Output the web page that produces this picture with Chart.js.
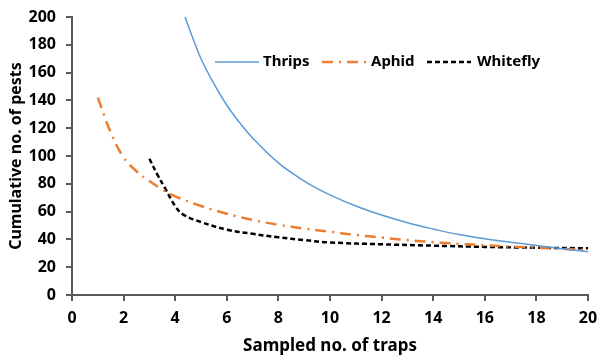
<!DOCTYPE html>
<html>
<head>
<meta charset="utf-8">
<script src="https://cdn.jsdelivr.net/npm/chart.js@4.4.0/dist/chart.umd.min.js"></script>
<style>
html,body{margin:0;padding:0;background:#fff;}
#wrap{width:598px;height:356px;position:relative;}
</style>
</head>
<body>
<div id="wrap"><canvas id="c" width="598" height="356"></canvas></div>
<script>
const seriesNames = ["Thrips", "Aphid", "Whitefly"];

const thripsX = [4.38, 4.7, 5, 5.5, 6, 6.5, 7, 8, 9, 10, 11, 12, 13, 14, 15, 16, 17, 18, 19, 20];
const thripsY = [200, 184, 170, 152, 136.5, 124, 113, 95, 82, 72, 64, 57.5, 52, 47.5, 43.5, 40.5, 38, 35.6, 33.3, 31.1];

const aphidX = [1, 1.5, 2, 2.5, 3, 3.5, 4, 5, 6, 7, 8, 9, 10, 11, 12, 13, 14, 15, 16, 17, 18, 19, 20];
const aphidY = [142, 117, 99, 89, 82, 76, 71, 64, 58.5, 54, 50.5, 47.8, 45.5, 43.2, 41.3, 39.5, 38, 36.8, 35.8, 34.9, 34, 33.2, 32.3];

const whiteflyX = [3, 3.3, 3.6, 4, 4.3, 5, 6, 7, 8, 9, 10, 12, 14, 16, 18, 20];
const whiteflyY = [98, 87, 77, 64, 58, 52.5, 47, 44, 41.5, 39.5, 37.8, 36.5, 35.5, 34.6, 34, 33.6];

const xTicks = [0, 2, 4, 6, 8, 10, 12, 14, 16, 18, 20];
const yTicks = [0, 20, 40, 60, 80, 100, 120, 140, 160, 180, 200];

const xTitle = "Sampled no. of traps";
const yTitle = "Cumulative no. of pests";

function pts(xs, ys) { return xs.map((x, i) => ({x: x, y: ys[i]})); }

const axisColor = '#595959';
const FONT = "'Noto Sans', 'DejaVu Sans', sans-serif";

const legendPlugin = {
  id: 'inlineLegend',
  afterDraw(chart) {
    const ctx = chart.ctx;
    const y = 62;
    const items = [
      {lx: 215, tx: 263},
      {lx: 322, tx: 371},
      {lx: 427, tx: 477}
    ];
    ctx.save();
    chart.data.datasets.forEach((ds, i) => {
      const it = items[i];
      ctx.beginPath();
      ctx.strokeStyle = ds.borderColor;
      ctx.lineWidth = ds.borderWidth;
      ctx.setLineDash(ds.borderDash || []);
      ctx.moveTo(it.lx, y);
      ctx.lineTo(it.lx + 44, y);
      ctx.stroke();
      ctx.setLineDash([]);
      ctx.fillStyle = '#000';
      ctx.font = "bold 15px " + FONT;
      ctx.textBaseline = 'middle';
      ctx.textAlign = 'left';
      ctx.fillText(ds.label, it.tx, y);
    });
    ctx.restore();
  }
};

new Chart(document.getElementById('c'), {
  type: 'line',
  data: {
    datasets: [
      {label: seriesNames[0], data: pts(thripsX, thripsY), borderColor: '#5B9BD5', borderWidth: 1.5, borderDash: [], pointRadius: 0, tension: 0.4, fill: false},
      {label: seriesNames[1], data: pts(aphidX, aphidY), borderColor: '#ED7D31', borderWidth: 2.5, borderDash: [11, 6, 2, 6], pointRadius: 0, tension: 0.4, fill: false},
      {label: seriesNames[2], data: pts(whiteflyX, whiteflyY), borderColor: '#000000', borderWidth: 2.5, borderDash: [5, 3], pointRadius: 0, tension: 0.4, fill: false}
    ]
  },
  options: {
    responsive: false,
    animation: false,
    devicePixelRatio: 1,
    layout: {padding: {top: 17, right: 10, left: 0, bottom: 0}},
    plugins: {legend: {display: false}, tooltip: {enabled: false}},
    scales: {
      x: {
        type: 'linear', min: 0, max: 20,
        afterBuildTicks: (s) => { s.ticks = xTicks.map(v => ({value: v})); },
        afterFit: (s) => { s.height = 61; s.paddingRight = 0; s.paddingLeft = 0; },
        grid: {display: true, drawOnChartArea: false, drawTicks: true, tickLength: 6, color: axisColor, lineWidth: 2},
        border: {display: true, color: axisColor, width: 2},
        ticks: {color: '#000', font: {family: FONT, size: 16, weight: 'bold'}, padding: 8, maxRotation: 0},
        title: {display: true, text: xTitle, color: '#000', font: {family: FONT, size: 17, weight: 'bold'}, padding: {top: 0, bottom: 0}}
      },
      y: {
        type: 'linear', min: 0, max: 200,
        afterBuildTicks: (s) => { s.ticks = yTicks.map(v => ({value: v})); },
        afterFit: (s) => { s.width = 72; s.paddingTop = 0; s.paddingBottom = 0; },
        grid: {display: true, drawOnChartArea: false, drawTicks: true, tickLength: 6, color: axisColor, lineWidth: 2},
        border: {display: true, color: axisColor, width: 2},
        ticks: {color: '#000', font: {family: FONT, size: 16, weight: 'bold'}, padding: 10},
        title: {display: true, text: yTitle, color: '#000', font: {family: FONT, size: 16, weight: 'bold'}, padding: {top: 7, bottom: 0}}
      }
    }
  },
  plugins: [legendPlugin]
});
</script>
</body>
</html>
